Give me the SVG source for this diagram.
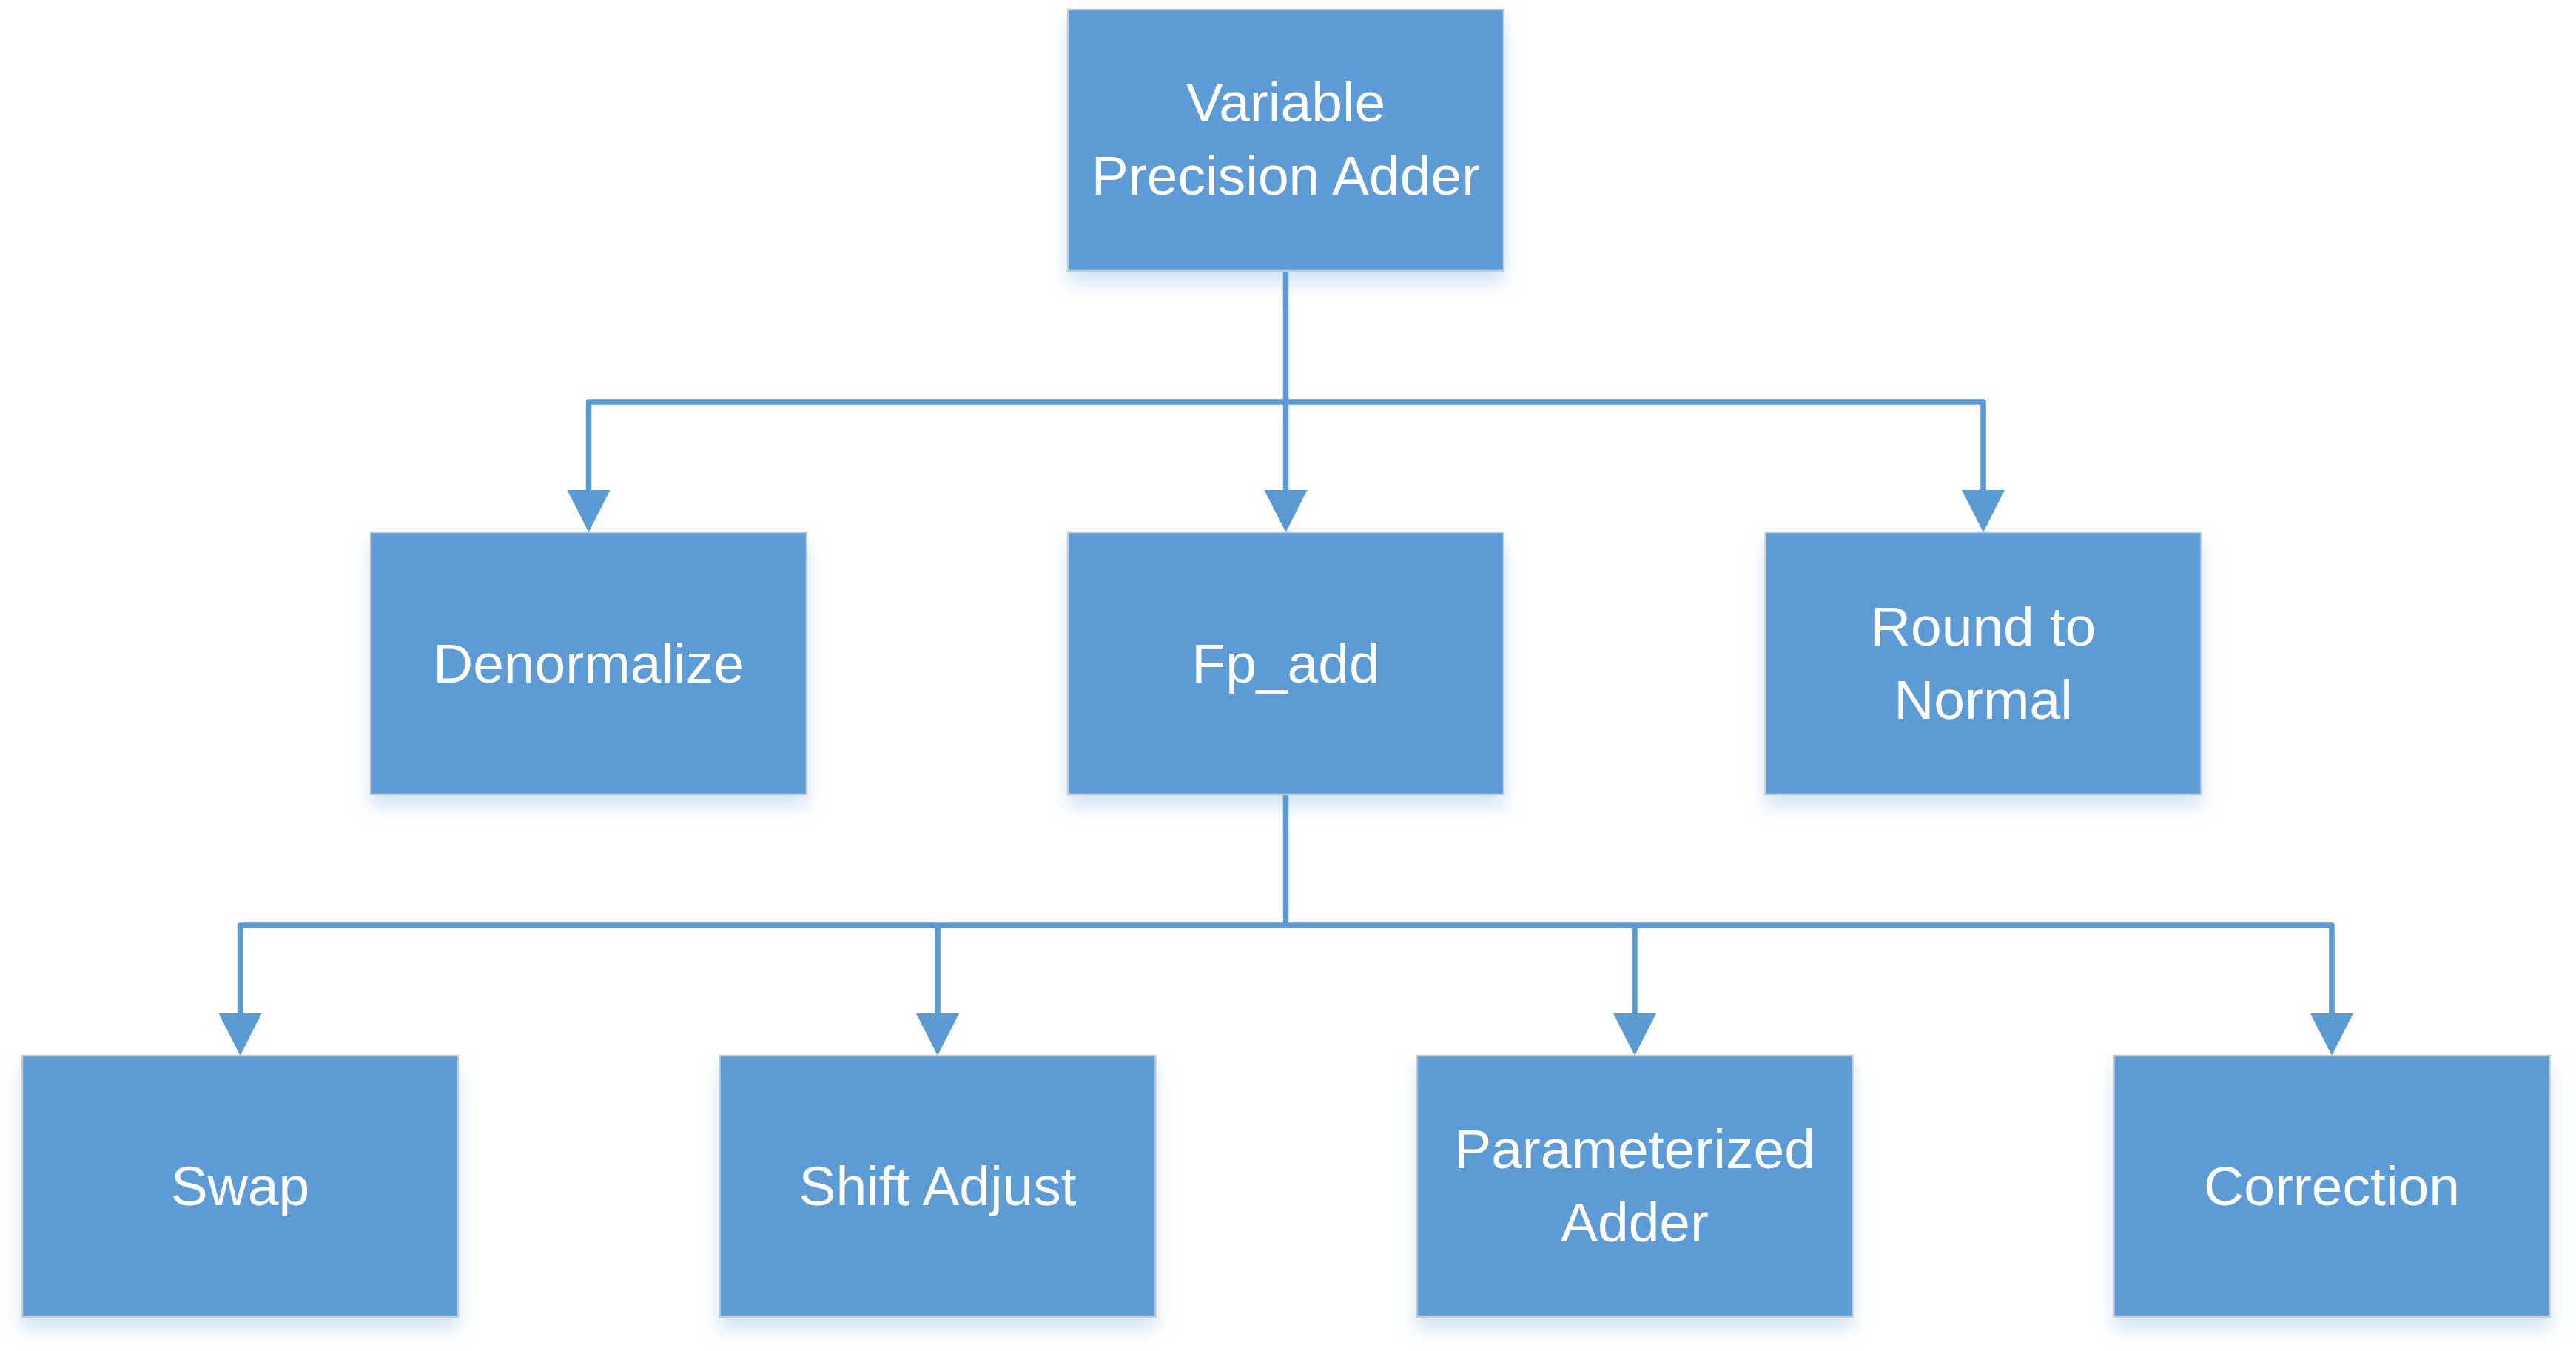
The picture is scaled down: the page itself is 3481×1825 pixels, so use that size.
<svg xmlns="http://www.w3.org/2000/svg" width="3481" height="1825" viewBox="0 0 3481 1825">
<style>
.box{fill:#5B9BD5;stroke:#C3CAD2;stroke-width:2.5;filter:url(#shadow)}
.lbl{font-family:"Liberation Sans",Arial,sans-serif;font-size:75px;fill:#FFFFFF;text-anchor:middle}
.conn{fill:none;stroke:#5B9BD5;stroke-width:7.5;stroke-linejoin:round}
.arr{fill:none;stroke:#5B9BD5;stroke-width:7.5;stroke-linejoin:round;marker-end:url(#ah)}
</style>
<defs>
<filter id="shadow" x="-10%" y="-10%" width="120%" height="135%">
<feDropShadow dx="0" dy="16" stdDeviation="12" flood-color="#5B9BD5" flood-opacity="0.28"/>
</filter>
<marker id="ah" markerUnits="userSpaceOnUse" markerWidth="58" markerHeight="58" viewBox="0 0 57 58" refX="0" refY="29" orient="auto">
<polygon points="0,0 57,29 0,58" fill="#5B9BD5"/>
</marker>
</defs>
<rect width="3481" height="1825" fill="#FFFFFF"/>
<g id="connectors">
<path class="arr" d="M1737.5,366 V662"/>
<path class="arr" d="M1737.5,543 H795.5 V662"/>
<path class="arr" d="M1737.5,543 H2680 V662"/>
<path class="conn" d="M1737.5,1073 V1250"/>
<path class="arr" d="M1737.5,1250 H324.5 V1369"/>
<path class="arr" d="M1737.5,1250 H3151 V1369"/>
<path class="arr" d="M1267,1250 V1369"/>
<path class="arr" d="M2209,1250 V1369"/>
</g>
<g id="node-vpa">
<rect class="box" x="1443" y="13" width="589" height="353"/>
<text class="lbl" x="1737.5" y="164">Variable</text>
<text class="lbl" x="1737.5" y="263">Precision Adder</text>
</g>
<g id="node-denormalize">
<rect class="box" x="501" y="719" width="589" height="354"/>
<text class="lbl" x="795.5" y="922">Denormalize</text>
</g>
<g id="node-fpadd">
<rect class="box" x="1443" y="719" width="589" height="354"/>
<text class="lbl" x="1737.5" y="922">Fp_add</text>
</g>
<g id="node-round">
<rect class="box" x="2385.5" y="719" width="589" height="354"/>
<text class="lbl" x="2680" y="872">Round to</text>
<text class="lbl" x="2680" y="971">Normal</text>
</g>
<g id="node-swap">
<rect class="box" x="30" y="1426" width="589" height="353"/>
<text class="lbl" x="324.5" y="1628">Swap</text>
</g>
<g id="node-shift">
<rect class="box" x="972.5" y="1426" width="589" height="353"/>
<text class="lbl" x="1267" y="1628">Shift Adjust</text>
</g>
<g id="node-param">
<rect class="box" x="1914.5" y="1426" width="589" height="353"/>
<text class="lbl" x="2209" y="1578">Parameterized</text>
<text class="lbl" x="2209" y="1677">Adder</text>
</g>
<g id="node-correction">
<rect class="box" x="2856.5" y="1426" width="589" height="353"/>
<text class="lbl" x="3151" y="1628">Correction</text>
</g>
</svg>
